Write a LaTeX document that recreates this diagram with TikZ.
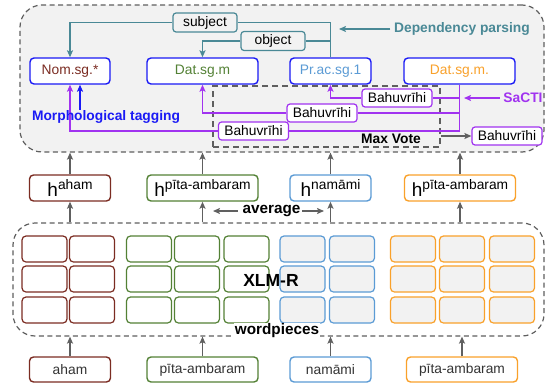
\documentclass[tikz,border=0pt]{standalone}
\usepackage{fontspec}
\setmainfont{Liberation Sans}
\usetikzlibrary{arrows.meta}
\definecolor{cBg}{HTML}{F2F2F2}
\definecolor{cDash}{HTML}{5F5F5F}
\definecolor{cMar}{HTML}{7B2C22}
\definecolor{cGrn}{HTML}{538135}
\definecolor{cBlu}{HTML}{5B9BD5}
\definecolor{cOra}{HTML}{F9A12B}
\definecolor{cTeal}{HTML}{4A8996}
\definecolor{cPur}{HTML}{A133F0}
\definecolor{cBlue}{HTML}{1A1AF5}
\definecolor{cGray}{HTML}{606060}
\definecolor{cTxt}{HTML}{333333}
\newcommand\hWord[1]{{\fontsize{19}{20}\selectfont h}\raisebox{6.5pt}{#1}}
\begin{document}
\begin{tikzpicture}[x=1pt,y=-1pt,
  base/.style={font=\fontsize{13.8}{16}\selectfont, inner sep=0pt},
  bl/.style={font=\fontsize{13.8}{16}\selectfont\bfseries, inner sep=1.5pt},
  blbig/.style={font=\fontsize{15.3}{17}\selectfont\bfseries, inner sep=1.5pt},
  container/.style={draw=cDash, dash pattern=on 5pt off 3.5pt, line width=1.2pt, rounded corners=22pt, inner sep=0pt},
  mvbox/.style={draw=cDash, dash pattern=on 6pt off 4pt, line width=1.4pt, inner sep=0pt},
  tagnode/.style={base, draw=cBlue, line width=1.4pt, fill=white, rounded corners=4pt, minimum height=26pt},
  hnode/.style={base, line width=1.4pt, fill=white, rounded corners=4pt, minimum height=26pt},
  wnode/.style={base, line width=1.4pt, fill=white, rounded corners=4pt, minimum height=25pt, text=cTxt},
  cell/.style={line width=1.2pt, rounded corners=4pt, minimum width=45pt, minimum height=26pt, inner sep=0pt},
  lbl/.style={base, draw=cTeal, line width=1.2pt, rounded corners=3pt, fill=cBg, minimum width=64pt, minimum height=19pt, text=black},
  bahu/.style={base, draw=cPur, line width=1.2pt, rounded corners=3pt, fill=white, minimum width=70pt, minimum height=18pt, text=black},
  tline/.style={draw=cTeal, line width=1.3pt},
  pline/.style={draw=cPur, line width=1.3pt},
  tip/.style={-{Stealth[length=7pt,width=6pt,inset=1.5pt]}},
  garrow/.style={draw=cGray, line width=1.3pt, tip}
]
\useasboundingbox (0,0) rectangle (552,386);

% containers
\node[container, fill=cBg, minimum width=524pt, minimum height=147pt] (dep) at (282,78.5) {};
\node[container, fill=white, minimum width=531pt, minimum height=113pt] (xlm) at (278.5,279.5) {};
\node[mvbox, minimum width=227pt, minimum height=61pt] (mv) at (326.5,116.5) {};

% tag nodes
\node[tagnode, minimum width=80pt, text=cMar] (nom) at (70,71) {Nom.sg.*};
\node[tagnode, minimum width=111pt, text=cGrn] (dat1) at (202.5,71) {Dat.sg.m};
\node[tagnode, minimum width=81pt, text=cBlu] (prac) at (330.5,71) {Pr.ac.sg.1};
\node[tagnode, minimum width=111pt, text=cOra] (dat2) at (459.5,71) {Dat.sg.m.};

% dependency labels
\node[lbl] (subj) at (205,22.5) {subject};
\node[lbl] (obj) at (273,41) {object};
\draw[tline] (prac.north) -- (prac.north |- subj) -- (subj.east);
\draw[tline, tip] (subj.west) -| (nom.north);
\draw[tline] (prac.north |- obj) -- (obj.east);
\draw[tline, tip] (obj.west) -| (dat1.north);

\node[bl, text=cTeal] (dp) at (462,29) {Dependency parsing};
\coordinate (dpend) at (339,29);
\draw[tline, tip] ([xshift=-2pt]dp.west) -- (dpend);

% SaCTI
\node[bahu] (b1) at (397,98) {Bahuvrīhi};
\node[bahu] (b2) at (322,113) {Bahuvrīhi};
\node[bahu] (b3) at (253.5,131) {Bahuvrīhi};
\node[bahu] (b4) at (507,136) {Bahuvrīhi};
\draw[pline] (dat2.south) -- (dat2.south |- b3) -- (b3.east);
\draw[pline] (dat2.south |- b1) -- (b1.east);
\draw[pline] (dat2.south |- b2) -- (b2.east);
\draw[pline, tip] (b1.west) -| (prac.south);
\draw[pline, tip] (b2.west) -| (dat1.south);
\draw[pline, tip] (b3.west) -| (nom.south);

\node[bl, text=cPur] (sacti) at (523,98) {SaCTI};
\coordinate (sactiend) at (464,98);
\draw[pline, tip] ([xshift=-2pt]sacti.west) -- (sactiend);

\node[bl, text=cBlue] (morph) at (106,117) {Morphological tagging};
\coordinate (mx) at (80,0);
\draw[draw=cBlue, line width=1.3pt, tip] ([yshift=-1pt]morph.north -| mx) -- (nom.south -| mx);

\node[bl] (mvt) at (391,139) {Max Vote};
\draw[garrow] (mv.east |- b4) -- (b4.west);

% hidden representations
\node[hnode, draw=cMar, minimum width=81pt] (h1) at (70,188) {\hWord{aham}};
\node[hnode, draw=cGrn, minimum width=111pt] (h2) at (202.5,188) {\hWord{pīta-ambaram}};
\node[hnode, draw=cBlu, minimum width=81pt] (h3) at (330.5,188) {\hWord{namāmi}};
\node[hnode, draw=cOra, minimum width=111pt] (h4) at (460,188) {\hWord{pīta-ambaram}};

% words
\node[wnode, draw=cMar, minimum width=81pt] (w1) at (70,369.5) {aham};
\node[wnode, draw=cGrn, minimum width=111pt] (w2) at (202.5,369.5) {pīta-ambaram};
\node[wnode, draw=cBlu, minimum width=81pt] (w3) at (330.5,369.5) {namāmi};
\node[wnode, draw=cOra, minimum width=111pt] (w4) at (462,369.5) {pīta-ambaram};

\foreach \n in {h1,h2,h3,h4} {
  \draw[garrow] (\n.north) -- (\n.north |- dep.south);
  \draw[garrow] (\n.south |- xlm.north) -- (\n.south);
}
\foreach \n in {w1,w2,w3,w4}
  \draw[garrow] (\n.north) -- (\n.north |- xlm.south);

\node[blbig] (avg) at (271.5,211) {average};
\coordinate (avgL) at (213,211);
\coordinate (avgR) at (324,211);
\draw[garrow] ([xshift=-3pt]avg.west) -- (avgL);
\draw[garrow] (avg.east) -- (avgR);

% wordpiece grid
\foreach \x/\c/\f [count=\i] in {44.5/cMar/white, 92/cMar/white, 149/cGrn/white, 197/cGrn/white, 246.5/cGrn/white, 302.5/cBlu/cBg, 352/cBlu/cBg, 413/cOra/cBg, 462/cOra/cBg, 512/cOra/cBg}
  \foreach \y [count=\j] in {249,279,310}
    \node[cell, draw=\c, fill=\f] (c\i-\j) at (\x,\y) {};

\node[font=\fontsize{17.5}{19}\selectfont\bfseries, inner sep=0pt] (xlmr) at (271,280) {XLM-R};
\node[blbig, fill=white, inner sep=1pt] (wp) at (277,331) {wordpieces};
\end{tikzpicture}
\end{document}
